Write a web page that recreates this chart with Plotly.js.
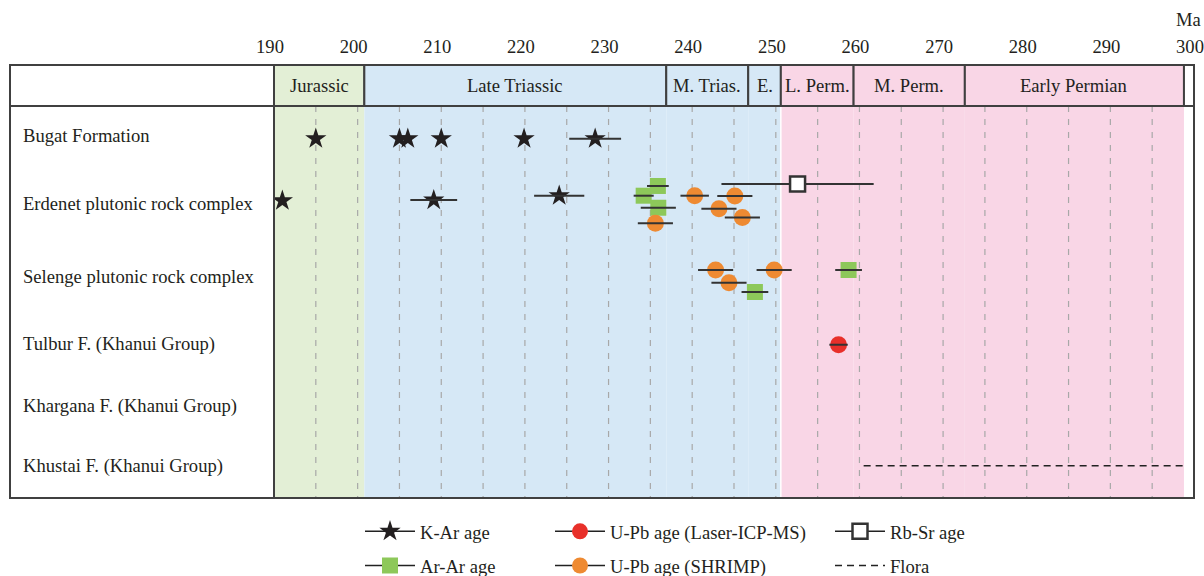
<!DOCTYPE html>
<html><head><meta charset="utf-8">
<script src="https://cdn.plot.ly/plotly-3.0.1.min.js"></script>
<style>body{margin:0;background:#fff}#chart{width:1204px;height:576px}</style>
</head><body><div id="chart"></div>
<script>
// ---- data ----
const ageTicks = [190, 200, 210, 220, 230, 240, 250, 260, 270, 280, 290, 300];
const periodNames = ['Jurassic', 'Late Triassic', 'M. Trias.', 'E.', 'L. Perm.', 'M. Perm.', 'Early Permian'];
const periodStart = [190, 200.8, 236.9, 246.7, 250.6, 259.3, 272.6];
const periodEnd   = [200.8, 236.9, 246.7, 250.6, 259.3, 272.6, 298.8];
const periodEra   = ['Jurassic', 'Triassic', 'Triassic', 'Triassic', 'Permian', 'Permian', 'Permian'];

const units = ['Bugat Formation', 'Erdenet plutonic rock complex', 'Selenge plutonic rock complex',
  'Tulbur F. (Khanui Group)', 'Khargana F. (Khanui Group)', 'Khustai F. (Khanui Group)'];
const unitLane = [-0.056, 0.985, 2.102, 3.143, 4.092, 5.01];

const kArAge  = [195.0, 205.0, 206.0, 210.0, 219.9, 228.4, 191.0, 209.1, 224.1];
const kArErr  = [0, 0, 0, 0, 0, 3.1, 0, 2.8, 3.0];
const kArLane = [0, 0, 0, 0, 0, 0, 0.95, 0.94, 0.873];

const arArAge  = [235.9, 234.2, 235.95, 247.5, 258.7];
const arArErr  = [1.3, 1.2, 2.1, 1.6, 1.6];
const arArLane = [0.724, 0.873, 1.057, 2.347, 2.010];

const laserAge  = [257.5];
const laserErr  = [1.1];
const laserLane = [3.154];

const shrimpAge  = [235.6, 240.3, 245.1, 243.2, 246.0, 242.8, 244.4, 249.8];
const shrimpErr  = [2.1, 1.7, 2.1, 2.1, 2.1, 2.1, 2.1, 2.1];
const shrimpLane = [1.296, 0.873, 0.878, 1.072, 1.205, 2.010, 2.205, 2.010];

const rbSrAge  = [252.6];
const rbSrErr  = [9.1];
const rbSrLane = [0.694];

const floraAge  = [260.5, 298.8];
const floraLane = [5.006, 5.006];

// ---- styling ----
const FONT = 'Liberation Serif, Times New Roman, serif';
const FS = 18.6;
const TXT = '#231f20';
const eraColor = {Jurassic: '#e3efd6', Triassic: '#d6e8f6', Permian: '#f9d6e6'};
const frameColor = '#404040';
const headerTop = -1.1276, bodyTop = -0.5, bodyBottom = 5.5;

function gapped(arr) { const o = []; arr.forEach((v, i) => { if (i) o.push(null); o.push(v); }); return o; }

function series(name, ages, lanes, marker, legend) {
  return {
    type: 'scatter', mode: 'lines+markers', name: name,
    x: gapped(ages), y: gapped(lanes), connectgaps: false,
    line: {color: '#222', width: 1.5}, marker: marker,
    legend: legend, legendgroup: name, hoverinfo: 'x'
  };
}
function errors(ages, lanes, errs) {
  return {
    type: 'scatter', mode: 'markers', x: ages, y: lanes, showlegend: false, hoverinfo: 'skip',
    marker: {size: 4, opacity: 0},
    error_x: {type: 'data', array: errs, color: '#333', thickness: 2, width: 0}
  };
}

const traces = [
  series('K-Ar age', kArAge, kArLane, {symbol: 'star', size: 16, color: '#231f20'}, 'legend'),
  series('Ar-Ar age', arArAge, arArLane, {symbol: 'square', size: 16, color: '#8dc85a'}, 'legend'),
  series('U-Pb age (Laser-ICP-MS)', laserAge, laserLane, {symbol: 'circle', size: 17, color: '#e8302a'}, 'legend2'),
  series('U-Pb age (SHRIMP)', shrimpAge, shrimpLane, {symbol: 'circle', size: 17, color: '#ee8a32'}, 'legend2'),
  Object.assign(series('Rb-Sr age', rbSrAge, rbSrLane,
    {symbol: 'square', size: 15, color: '#ffffff', line: {color: '#333', width: 2.5}}, 'legend3'),
    {error_x: {type: 'data', array: rbSrErr, color: '#333', thickness: 2, width: 0}}),
  {type: 'scatter', mode: 'lines', name: 'Flora', x: floraAge, y: floraLane,
   line: {color: '#222', width: 1.5, dash: '7px,5px'}, legend: 'legend3', legendgroup: 'Flora', hoverinfo: 'skip'},
  errors(kArAge, kArLane, kArErr),
  errors(arArAge, arArLane, arArErr),
  errors(laserAge, laserLane, laserErr),
  errors(shrimpAge, shrimpLane, shrimpErr)
];

// ---- shapes ----
const shapes = [];
periodNames.forEach((p, i) => {
  shapes.push({type: 'rect', layer: 'below', xref: 'x', yref: 'y', x0: periodStart[i], x1: periodEnd[i],
    y0: bodyTop, y1: bodyBottom, fillcolor: eraColor[periodEra[i]], line: {width: 0}});
});
for (let v = 195; v <= 295; v += 5) {
  shapes.push({type: 'line', layer: 'below', xref: 'x', yref: 'y', x0: v, x1: v, y0: bodyTop, y1: bodyBottom,
    line: {color: '#a8a8a8', width: 1.2, dash: '6px,7px'}});
}
shapes.push({type: 'line', layer: 'below', xref: 'x', yref: 'y', x0: periodStart[4], x1: periodStart[4],
  y0: bodyTop, y1: bodyBottom, line: {color: '#ffffff', width: 1.5}});
periodNames.forEach((p, i) => {
  shapes.push({type: 'rect', layer: 'above', xref: 'x', yref: 'y', x0: periodStart[i], x1: periodEnd[i],
    y0: headerTop, y1: bodyTop, fillcolor: eraColor[periodEra[i]], line: {color: frameColor, width: 2}});
});
shapes.push({type: 'rect', layer: 'above', xref: 'x', yref: 'y', x0: periodEnd[6], x1: 300,
  y0: headerTop, y1: bodyTop, fillcolor: '#ffffff', line: {color: frameColor, width: 2}});
const leftEdge = (10 - 274) / 920;
shapes.push({type: 'rect', layer: 'above', xref: 'paper', yref: 'paper', x0: leftEdge, x1: 0, y0: 0, y1: 1,
  line: {color: frameColor, width: 2}});
shapes.push({type: 'line', layer: 'above', xref: 'paper', yref: 'y', x0: leftEdge, x1: 1, y0: bodyTop, y1: bodyTop,
  line: {color: frameColor, width: 2}});
shapes.push({type: 'rect', layer: 'above', xref: 'paper', yref: 'paper', x0: 0, x1: 1, y0: 0, y1: 1,
  line: {color: frameColor, width: 2}});

// ---- annotations ----
const annotations = [];
units.forEach((u, i) => annotations.push({xref: 'paper', yref: 'y', x: (21 - 274) / 920, y: unitLane[i],
  text: u, showarrow: false, xanchor: 'left', yanchor: 'middle', font: {family: FONT, size: FS, color: TXT}}));
periodNames.forEach((p, i) => annotations.push({xref: 'x', yref: 'y', x: (periodStart[i] + periodEnd[i]) / 2,
  y: (headerTop + bodyTop) / 2, text: p, showarrow: false, xanchor: 'center', yanchor: 'middle',
  font: {family: FONT, size: FS, color: TXT}}));
annotations.push({xref: 'paper', yref: 'paper', x: (1188 - 274) / 920, y: 1.104, text: 'Ma', showarrow: false,
  xanchor: 'center', yanchor: 'middle', font: {family: FONT, size: FS, color: TXT}});

const legendBase = {orientation: 'v', xanchor: 'left', yanchor: 'top', y: -0.034, bgcolor: 'rgba(0,0,0,0)',
  font: {family: FONT, size: FS, color: TXT}, itemwidth: 50, tracegroupgap: 7, traceorder: 'grouped'};

const layout = {
  width: 1204, height: 576,
  margin: {l: 274, r: 10, t: 65, b: 78, autoexpand: false},
  paper_bgcolor: '#ffffff', plot_bgcolor: '#ffffff',
  showlegend: true,
  xaxis: {side: 'top', range: [190, 300], tickmode: 'array', tickvals: ageTicks, ticktext: ageTicks.map(String),
    ticks: 'outside', ticklen: 4, tickcolor: 'rgba(0,0,0,0)', showgrid: false, zeroline: false, showline: false,
    ticklabelshift: -4, ticklabeloverflow: 'allow', automargin: false,
    tickfont: {family: FONT, size: FS, color: TXT}, fixedrange: true},
  yaxis: {range: [bodyBottom, headerTop], visible: false, showgrid: false, zeroline: false, fixedrange: true},
  shapes: shapes, annotations: annotations,
  legend: Object.assign({}, legendBase, {x: (360 - 274) / 920}),
  legend2: Object.assign({}, legendBase, {x: (550 - 274) / 920}),
  legend3: Object.assign({}, legendBase, {x: (830 - 274) / 920})
};

Plotly.newPlot('chart', traces, layout, {displayModeBar: false, staticPlot: true});
</script></body></html>
